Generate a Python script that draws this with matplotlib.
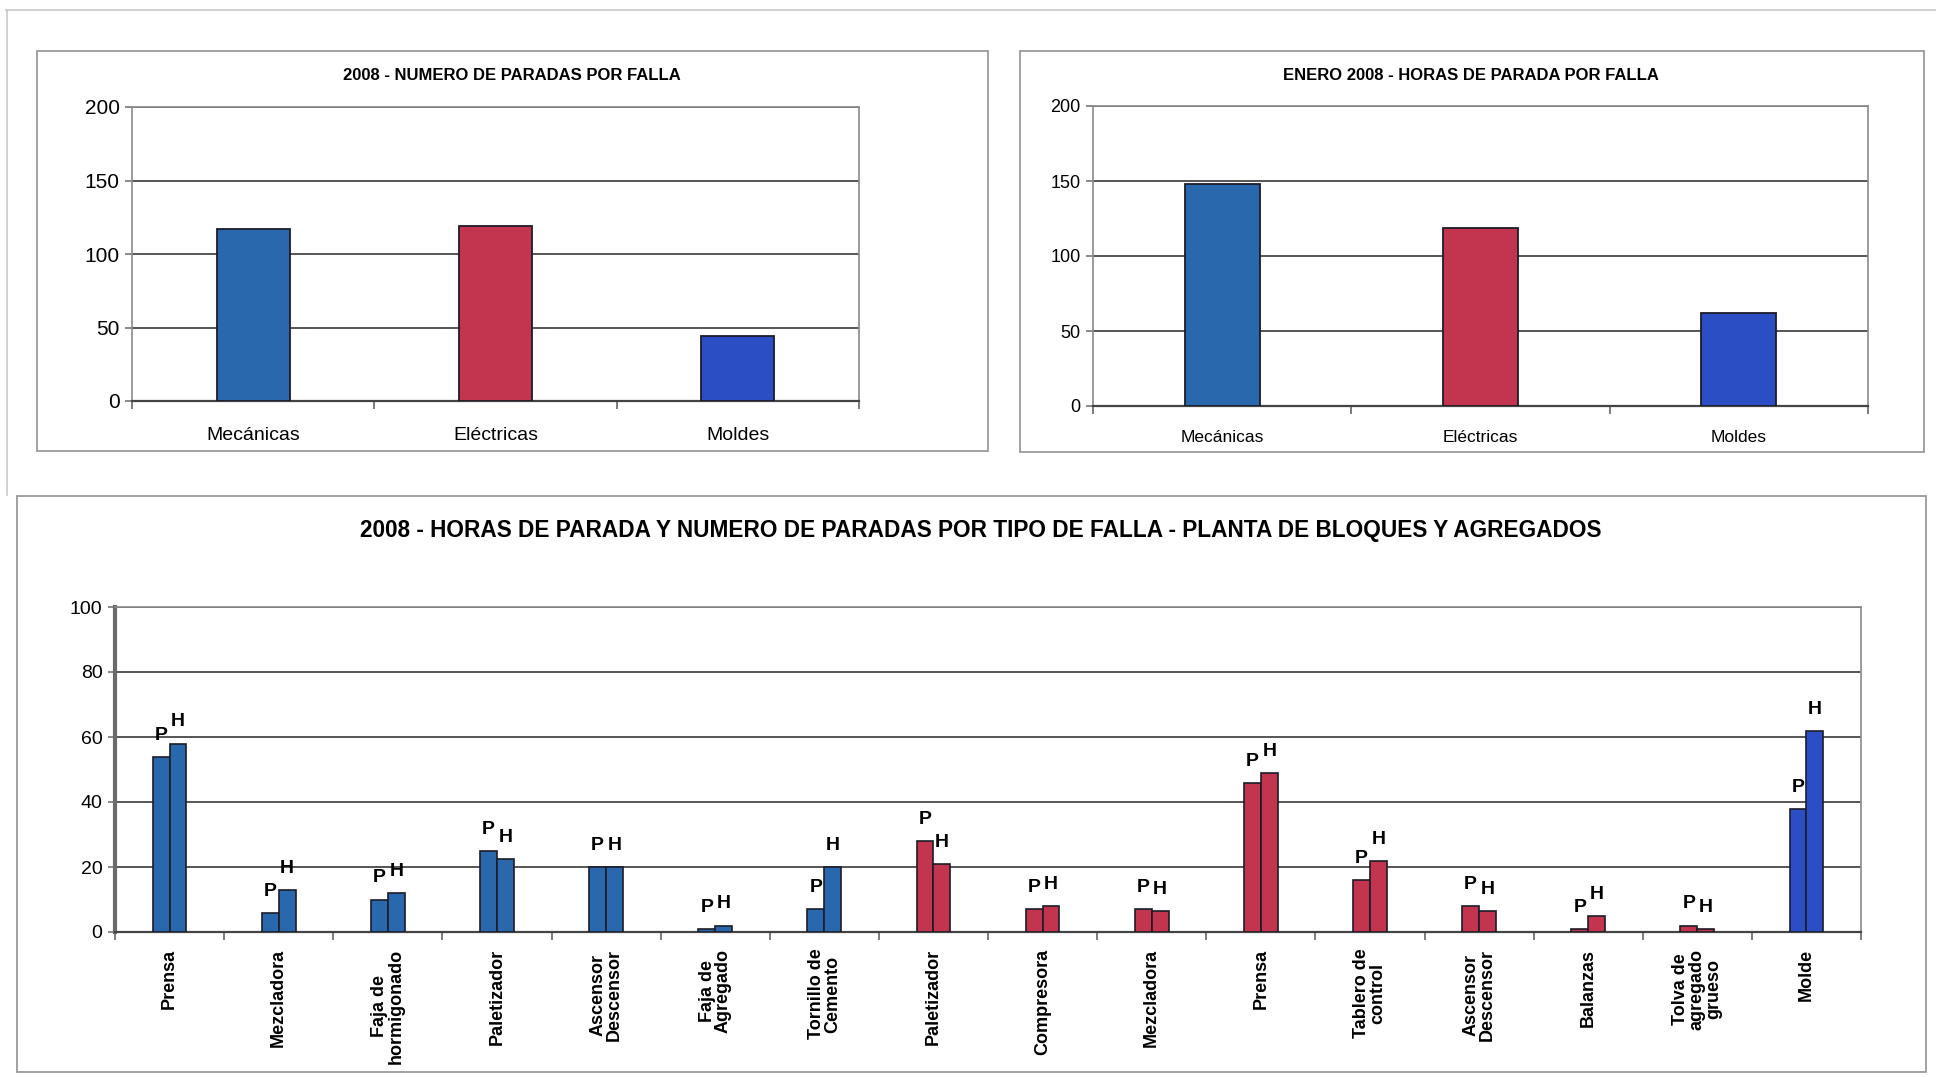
import matplotlib
matplotlib.use("Agg")
import matplotlib.pyplot as plt
from matplotlib.patches import Rectangle
from matplotlib.lines import Line2D
import numpy as np

# ---- data ----
resumen_cats = ["Mecánicas", "Eléctricas", "Moldes"]
paradas_2008 = [117, 119, 44]
horas_enero_2008 = [148, 119, 62]

equipos = [
    "Prensa", "Mezcladora", "Faja de\nhormigonado", "Paletizador",
    "Ascensor\nDescensor", "Faja de\nAgregado", "Tornillo de\nCemento",
    "Paletizador", "Compresora", "Mezcladora", "Prensa", "Tablero de\ncontrol",
    "Ascensor\nDescensor", "Balanzas", "Tolva de\nagregado\ngrueso", "Molde",
]
tipo_falla = ["M", "M", "M", "M", "M", "M", "M",
              "E", "E", "E", "E", "E", "E", "E", "E", "D"]
num_paradas = [54, 6, 10, 25, 20, 1, 7, 28, 7, 7, 46, 16, 8, 1, 2, 38]
horas_parada = [58, 13, 12, 22.5, 20, 2, 20, 21, 8, 6.5, 49, 22, 6.5, 5, 1, 62]

# ---- styling ----
W, H = 1936, 1077
COL = {"M": "#2a68ad", "E": "#c3344e", "D": "#2c4ec4"}
EDGE = "#1c1c28"
GRID = "#555555"
NARROW = ["Liberation Sans Narrow", "Liberation Sans", "DejaVu Sans"]
SANS = ["Liberation Sans", "DejaVu Sans"]

plt.rcParams["font.family"] = SANS

fig = plt.figure(figsize=(W / 100, H / 100), dpi=100)
fig.patch.set_facecolor("white")


def px_axes(x0, y0, x1, y1):
    return fig.add_axes([x0 / W, 1 - y1 / H, (x1 - x0) / W, (y1 - y0) / H])


def px_box(x0, y0, x1, y1, color="#9a9a9a", lw=1.3):
    fig.add_artist(Rectangle((x0 / W, 1 - y1 / H), (x1 - x0) / W, (y1 - y0) / H,
                             transform=fig.transFigure, fill=False,
                             edgecolor=color, linewidth=lw))


# page border lines
fig.add_artist(Line2D([6 / W, 1], [1 - 10 / H, 1 - 10 / H], transform=fig.transFigure,
                      color="#c8c8c8", lw=1.2))
fig.add_artist(Line2D([7 / W, 7 / W], [1 - 10 / H, 1 - 495 / H], transform=fig.transFigure,
                      color="#c8c8c8", lw=1.2))

# panel frames
px_box(37, 51, 988, 451)
px_box(1020, 51, 1924, 452)
px_box(17, 496, 1926, 1072)


def style_axes(ax, ymax, ystep, tick_fs, spine_lw=1.2):
    ax.set_ylim(0, ymax)
    ax.set_yticks(np.arange(0, ymax + 1, ystep))
    ax.yaxis.grid(True, color=GRID, linewidth=1.4)
    ax.set_axisbelow(True)
    for s in ax.spines.values():
        s.set_color("#8a8a8a")
        s.set_linewidth(spine_lw)
    ax.spines["bottom"].set_color("#444444")
    ax.spines["bottom"].set_linewidth(1.6)
    ax.tick_params(axis="y", length=5, width=1.2, color="#777777", pad=4)
    for lab in ax.get_yticklabels():
        lab.set_fontfamily(NARROW)
        lab.set_fontsize(tick_fs)


def resumen(ax, values, title, title_x, tick_fs, xl_fs, title_fs, width, pad):
    x = np.arange(len(resumen_cats))
    ax.bar(x, values, width=width, color=[COL["M"], COL["E"], COL["D"]],
           edgecolor=EDGE, linewidth=1.3, zorder=3)
    ax.set_xlim(-0.5, len(resumen_cats) - 0.5)
    style_axes(ax, 200, 50, tick_fs)
    ax.set_xticks(x)
    ax.set_xticklabels(resumen_cats, fontfamily=NARROW, fontsize=xl_fs)
    ax.tick_params(axis="x", which="major", length=0, pad=pad)
    ax.set_xticks(np.arange(-0.5, len(resumen_cats)), minor=True)
    ax.tick_params(axis="x", which="minor", length=6, width=1.2, color="#666666")
    fig.text(title_x / W, 1 - 75 / H, title, ha="center", va="center",
             fontfamily=NARROW, fontweight="bold", fontsize=title_fs)


ax1 = px_axes(132, 107, 859, 401)
resumen(ax1, paradas_2008, "2008 - NUMERO DE PARADAS POR FALLA", 512, 15, 14, 12, 0.30, 19)

ax2 = px_axes(1093, 106, 1868, 406)
resumen(ax2, horas_enero_2008, "ENERO 2008 - HORAS DE PARADA POR FALLA", 1471, 13, 12.5, 12, 0.29, 17)

# ---- detailed chart ----
ax3 = px_axes(115, 607, 1861, 932)
n = len(equipos)
x = np.arange(n)
bw = 0.155
colors = [COL[t] for t in tipo_falla]
ax3.bar(x - bw / 2, num_paradas, width=bw, color=colors, edgecolor=EDGE,
        linewidth=1.2, zorder=3)
ax3.bar(x + bw / 2, horas_parada, width=bw, color=colors, edgecolor=EDGE,
        linewidth=1.2, zorder=3)
for xi, p, h in zip(x, num_paradas, horas_parada):
    ax3.text(xi - bw / 2, p + 4, "P", ha="center", va="bottom",
             fontsize=14, fontweight="bold", zorder=4)
    ax3.text(xi + bw / 2, h + 4, "H", ha="center", va="bottom",
             fontsize=14, fontweight="bold", zorder=4)

ax3.set_xlim(-0.5, n - 0.5)
style_axes(ax3, 100, 20, 14)
ax3.spines["left"].set_linewidth(3)
ax3.spines["left"].set_color("#6a6a6a")
ax3.set_xticks(x)
ax3.set_xticklabels(equipos, rotation=90, fontsize=13, fontweight="bold",
                    linespacing=0.95, multialignment="center")
ax3.tick_params(axis="x", which="major", length=0, pad=12)
ax3.set_xticks(np.arange(-0.5, n), minor=True)
ax3.tick_params(axis="x", which="minor", length=6, width=1.2, color="#666666")

fig.text(981 / W, 1 - 531 / H,
         "2008 - HORAS DE PARADA Y NUMERO DE PARADAS POR TIPO DE FALLA - PLANTA DE BLOQUES Y AGREGADOS",
         ha="center", va="center", fontfamily=NARROW, fontweight="bold", fontsize=16.3)

fig.savefig("out.png", dpi=100, facecolor="white")
